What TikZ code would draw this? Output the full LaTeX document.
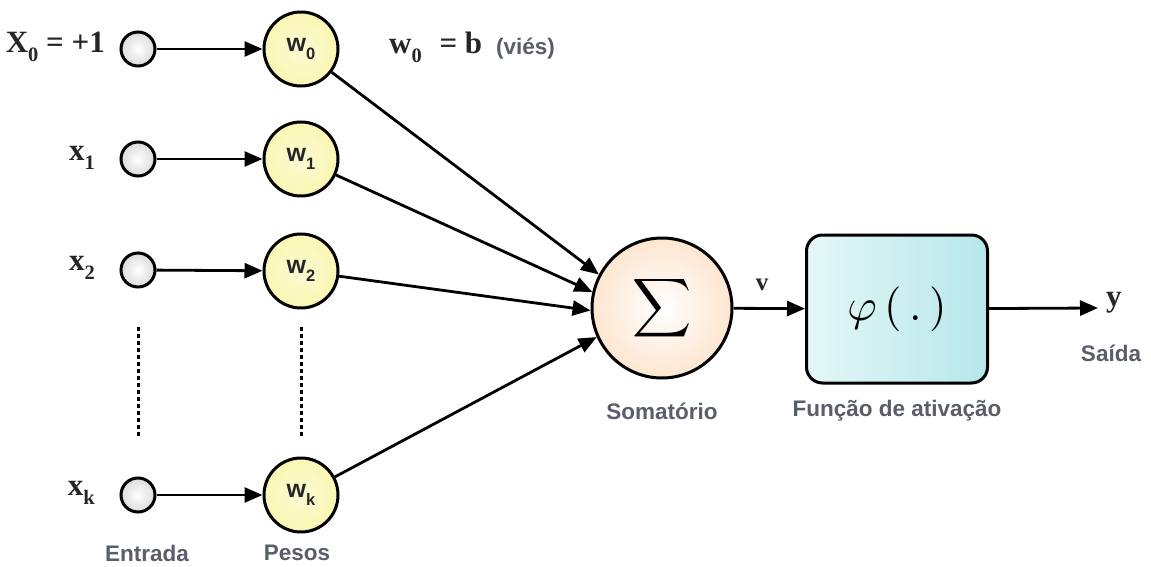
\documentclass[tikz,border=0pt]{standalone}
\usepackage{fontspec}
\setmainfont{Liberation Serif}
\newfontfamily\labelsans{Liberation Sans}
\usetikzlibrary{arrows.meta}

% subscript set in the running font, lowered
\newcommand{\lowsub}[1]{\raisebox{-0.3em}{\fontsize{0.66em}{0.66em}\selectfont #1}}

\definecolor{captiongray}{RGB}{90,94,106}
\definecolor{inputfill}{RGB}{236,236,236}
\definecolor{weightfill}{RGB}{251,246,178}
\definecolor{sumfill}{RGB}{253,230,208}
\definecolor{boxfillA}{RGB}{228,247,248}
\definecolor{boxfillB}{RGB}{182,231,234}

\tikzset{
  inputnode/.style={circle, draw=black, line width=3pt, minimum size=34pt,
    inner sep=0pt, inner color=white, outer color=inputfill!85!gray},
  weightnode/.style={circle, draw=black, line width=3pt, minimum size=74pt,
    inner sep=0pt, inner color=weightfill!55!white, outer color=weightfill,
    font=\labelsans\bfseries\fontsize{25}{25}\selectfont, text=black!85},
  sumnode/.style={circle, draw=black, line width=3pt, minimum size=140pt,
    inner sep=0pt, inner color=white, outer color=sumfill},
  actbox/.style={draw=black, line width=3pt, rounded corners=16pt,
    minimum width=181pt, minimum height=148pt, inner sep=0pt,
    left color=boxfillA, right color=boxfillB},
  mathlabel/.style={font=\bfseries\fontsize{31}{31}\selectfont, text=black!85, inner sep=0pt},
  caption/.style={font=\labelsans\bfseries\fontsize{22.5}{22.5}\selectfont, text=captiongray, inner sep=0pt},
  link/.style={line width=2.8pt, -{Triangle[length=18pt,width=15pt]}},
  ellipsisline/.style={line width=3pt, dash pattern=on 4pt off 3pt},
}

\begin{document}
\begin{tikzpicture}[x=1pt, y=-1pt]
  \useasboundingbox[fill=white] (0,0) rectangle (1151,567);

  % inputs
  \node[inputnode] (i0) at (138,49) {};
  \node[inputnode] (i1) at (138,159) {};
  \node[inputnode] (i2) at (138,270) {};
  \node[inputnode] (ik) at (138,495) {};

  % weights
  \node[weightnode] (w0) at (301,49) {w\lowsub{0}};
  \node[weightnode] (w1) at (301,159) {w\lowsub{1}};
  \node[weightnode] (w2) at (301,271) {w\lowsub{2}};
  \node[weightnode] (wk) at (301,495) {w\lowsub{k}};

  % summing junction and activation
  \node[sumnode] (sum) at (662,308)
    {\scalebox{4.1}{$\displaystyle\sum$}};
  \node[actbox] (act) at (897,309)
    {\scalebox{4.5}{$\varphi\,(\,.\,)$}};
  \coordinate (out) at (1098,308);

  % input labels
  \node[mathlabel, anchor=east] (lx0) at (105,47) {X\lowsub{0} = +1};
  \node[mathlabel, anchor=east] (lx1) at (95,158) {x\lowsub{1}};
  \node[mathlabel, anchor=east] (lx2) at (95,268) {x\lowsub{2}};
  \node[mathlabel, anchor=east] (lxk) at (95,493) {x\lowsub{k}};

  % bias note
  \node[mathlabel, anchor=west] (bias) at (389,47) {w\lowsub{0}\hspace{10pt} = b};
  \node[caption, anchor=west] (vies) at (496,49) {(viés)};

  % signal labels
  \node[mathlabel, font=\bfseries\fontsize{25}{25}\selectfont] (lv) at (762,285) {v};
  \node[mathlabel, anchor=west] (ly) at (1106,303) {y};

  % captions
  \node[caption] (csum) at (662,411) {Somatório};
  \node[caption] (cact) at (897,411) {Função de ativação};
  \node[caption] (cout) at (1111,353) {Saída};
  \node[caption] (cin) at (147,553) {Entrada};
  \node[caption] (cw) at (297,553) {Pesos};

  % connectors
  \draw[link] (i0) -- (w0);
  \draw[link] (i1) -- (w1);
  \draw[link] (i2) -- (w2);
  \draw[link] (ik) -- (wk);

  \draw[link] (w0) -- (sum.152);
  \draw[link] (w1) -- (sum.167);
  \draw[link] (w2) -- (sum.182);
  \draw[link] (wk) -- (sum.204);

  \draw[link] (sum) -- (act);
  \draw[link] (act) -- (out);

  % elided rows
  \draw[ellipsisline] ([yshift=-57pt]i2.center) -- ([yshift=57pt]ik.center);
  \draw[ellipsisline] ([yshift=-56pt]w2.center) -- ([yshift=57pt]wk.center);
\end{tikzpicture}
\end{document}
